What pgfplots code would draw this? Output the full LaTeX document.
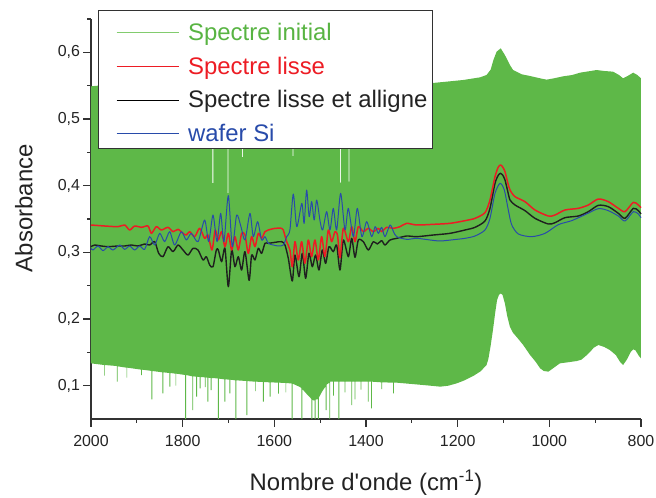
\documentclass[border=0pt]{standalone}
\usepackage{fontspec}
\setmainfont{Liberation Sans}
\usepackage{pgfplots}
\pgfplotsset{compat=1.18}
\definecolor{sgreen}{RGB}{94,184,72}
\definecolor{sgreenL}{RGB}{130,204,110}
\definecolor{sgreenT}{RGB}{88,180,66}
\definecolor{sred}{RGB}{237,28,36}
\definecolor{sblue}{RGB}{40,75,170}
\definecolor{axgray}{RGB}{50,50,50}
\definecolor{txt}{RGB}{35,35,35}
\begin{document}
\begin{tikzpicture}
\begin{axis}[
  scale only axis, width=550bp, height=400bp,
  xmin=800, xmax=2000, ymin=0.05, ymax=0.65,
  x dir=reverse, clip=false,
  axis lines=left, axis line style={-, axgray, line width=1.2pt},
  tick align=outside, tick style={axgray, line width=1.1pt},
  major tick length=7.5bp, minor tick length=3.5bp,
  xtick={800,1000,1200,1400,1600,1800,2000},
  minor xtick={900,1100,1300,1500,1700,1900},
  ytick={0.1,0.2,0.3,0.4,0.5,0.6},
  minor ytick={0.15,0.25,0.35,0.45,0.55,0.65},
  /pgf/number format/assume math mode=true,
  ticklabel style={font=\fontsize{16}{19}\selectfont, text=txt},
  xticklabel style={/pgf/number format/1000 sep={}, yshift=-5bp},
  yticklabel style={/pgf/number format/.cd, fixed, fixed zerofill, precision=1, use comma},
  xlabel={Nombre d\textquotesingle onde (cm\textsuperscript{-1})},
  ylabel={Absorbance},
  label style={font=\fontsize{24}{28}\selectfont, text=txt},
  xlabel style={at={(axis description cs:0.5,-0.16)}, anchor=center},
  ylabel style={at={(axis description cs:-0.122,0.527)}, anchor=center},
  legend image code/.code={\path (0bp,0bp) (71bp,0bp); \draw[#1] (0bp,2bp) -- (62bp,2bp);},
  legend cell align=left,
  legend style={at={(axis description cs:0.04545,0.99)}, anchor=north west,
    draw=none, fill=none, inner xsep=0bp, inner ysep=0bp, row sep=11.9bp,
    font=\fontsize{24}{28}\selectfont,
    nodes={inner sep=0bp, text height=17bp, text depth=5bp}},
  every axis plot/.append style={line join=round},
]
% Spectre initial: band between upper and lower envelopes of the rapid oscillation
\addplot[fill=sgreen, draw=none, forget plot] coordinates {
(2000,0.549) (1985,0.550) (1900,0.552) (1800,0.553)
(1735,0.553) (1735,0.404) (1733,0.404) (1733,0.553)
(1702,0.553) (1702,0.389) (1700,0.389) (1700,0.553)
(1670,0.553) (1670,0.443) (1668,0.443) (1668,0.553)
(1560.3,0.553) (1560.3,0.4445) (1558.3,0.4445) (1558.3,0.553)
(1456.2,0.553) (1456.2,0.4045) (1454.2,0.4045) (1454.2,0.553)
(1438.1,0.553) (1438.1,0.406) (1436.1,0.406) (1436.1,0.553)
(1400,0.553) (1300,0.554) (1254,0.554) (1188,0.5585) (1151,0.5625) (1137,0.566)
(1128,0.574) (1122,0.5885) (1115,0.601) (1106,0.606) (1097,0.596) (1086,0.581)
(1079,0.5735) (1060,0.567) (1042,0.5645) (1020,0.561) (1006,0.559) (990,0.561)
(970,0.564) (950,0.566) (933,0.5695) (910,0.572) (897,0.5735) (880,0.572)
(861,0.571) (848,0.566) (839,0.561) (828,0.565) (817,0.5695) (808,0.566) (800,0.561)
(800,0.141) (805,0.145) (812,0.153) (817,0.1545) (823,0.150) (830,0.140) (839,0.131)
(846,0.136) (855,0.146) (868,0.1535) (880,0.158) (893,0.161) (903,0.157) (912,0.150)
(918,0.146) (930,0.139) (940,0.137) (960,0.135) (977,0.1335) (990,0.127) (1002,0.121)
(1012,0.122) (1020,0.126) (1030,0.136) (1042,0.146) (1057,0.161) (1070,0.172)
(1080,0.180) (1086,0.1885) (1092,0.205) (1097,0.2235) (1102,0.236) (1106,0.2385)
(1110,0.236) (1114,0.2285) (1118,0.210) (1123,0.1835) (1128,0.160) (1133,0.140)
(1137,0.131) (1150,0.1215) (1166,0.1145) (1185,0.108) (1202,0.1035) (1220,0.100)
(1238,0.0985) (1260,0.100) (1300,0.1025) (1333,0.1045)
(1339,0.1045) (1339,0.0885) (1341,0.0885) (1341,0.1045)
(1365,0.105) (1365,0.095) (1366.5,0.095) (1366.5,0.105)
(1387,0.106) (1387,0.066) (1389,0.066) (1389,0.106)
(1394,0.106) (1394,0.076) (1396,0.076) (1396,0.106)
(1410,0.106) (1410,0.094) (1411.5,0.094) (1411.5,0.106)
(1423,0.106) (1423,0.0795) (1425,0.0795) (1425,0.106)
(1430,0.106) (1430,0.071) (1432,0.071) (1432,0.106)
(1445,0.106) (1445,0.090) (1446.5,0.090) (1446.5,0.106)
(1458,0.106) (1458,0.050) (1460,0.050) (1460,0.106)
(1470,0.106) (1470,0.085) (1471.5,0.085) (1471.5,0.106)
(1478,0.106) (1478,0.050) (1480,0.050) (1480,0.1045)
(1486,0.1015) (1486,0.0635) (1488,0.0635) (1488,0.099)
(1495,0.092)
(1503,0.082) (1503,0.050) (1505,0.050) (1505,0.080)
(1510,0.079) (1510,0.050) (1512,0.050) (1512,0.078)
(1515,0.078)
(1517,0.079) (1517,0.050) (1519,0.050) (1519,0.080)
(1530,0.088)
(1539,0.095) (1539,0.050) (1541,0.050) (1541,0.096)
(1544,0.098)
(1560,0.103) (1560,0.050) (1562,0.050) (1562,0.1035)
(1566,0.1035)
(1574,0.104) (1574,0.090) (1575.5,0.090) (1575.5,0.104)
(1590,0.1045) (1590,0.088) (1591.5,0.088) (1591.5,0.1045)
(1608,0.105) (1608,0.0835) (1610,0.0835) (1610,0.105)
(1623,0.1055) (1623,0.076) (1625,0.076) (1625,0.1055)
(1640,0.106) (1640,0.092) (1641.5,0.092) (1641.5,0.106)
(1653,0.1065)
(1659,0.107) (1659,0.056) (1661,0.056) (1661,0.107)
(1683,0.108) (1683,0.050) (1685,0.050) (1685,0.108)
(1696,0.109) (1696,0.0885) (1698,0.0885) (1698,0.109)
(1707,0.1095) (1707,0.076) (1709,0.076) (1709,0.1095)
(1721,0.1105) (1721,0.050) (1723,0.050) (1723,0.111)
(1726,0.111)
(1737,0.1115) (1737,0.0935) (1739,0.0935) (1739,0.1115)
(1744,0.112) (1744,0.076) (1746,0.076) (1746,0.112)
(1750,0.1125) (1750,0.098) (1751.5,0.098) (1751.5,0.1125)
(1761,0.113) (1761,0.096) (1763,0.096) (1763,0.113)
(1768.5,0.1135) (1768.5,0.0835) (1770.5,0.0835) (1770.5,0.1135)
(1777,0.114) (1777,0.0635) (1779,0.0635) (1779,0.114)
(1792.5,0.116) (1792.5,0.050) (1794.5,0.050) (1794.5,0.116)
(1799,0.1165)
(1814,0.118) (1814,0.100) (1815.5,0.100) (1815.5,0.118)
(1827,0.119) (1827,0.0985) (1829,0.0985) (1829,0.119)
(1842,0.120) (1842,0.0885) (1844,0.0885) (1844,0.120)
(1866,0.122) (1866,0.0795) (1868,0.0795) (1868,0.122)
(1871,0.1225)
(1889,0.124) (1889,0.116) (1890.5,0.116) (1890.5,0.124)
(1921,0.127) (1921,0.112) (1922.5,0.112) (1922.5,0.127)
(1942,0.129) (1942,0.106) (1943.5,0.106) (1943.5,0.129)
(1944,0.1295)
(1970,0.131) (1970,0.115) (1971.5,0.115) (1971.5,0.131)
(2000,0.1335)
} -- cycle;
% Spectre lisse et alligne
\addplot[black!88, line width=1.4pt, smooth, tension=0.45, forget plot] coordinates {
(2000,0.3085) (1992,0.311) (1977.4,0.3095) (1962.9,0.3085) (1941,0.3095) (1926.5,0.3095)
(1912,0.311) (1897.4,0.3095) (1882.9,0.3125) (1872,0.311) (1861,0.316) (1852.3,0.2985)
(1842.9,0.2935) (1832,0.3085) (1821,0.301) (1810.1,0.311) (1799.2,0.3035) (1788.3,0.296)
(1777.4,0.306) (1766.5,0.3035) (1755.6,0.2885) (1748.3,0.2935) (1741,0.281) (1733.8,0.2785)
(1726.5,0.3035) (1722.2,0.3035) (1715,0.286) (1707.7,0.306) (1700.4,0.2485) (1693.1,0.3035)
(1685.9,0.2785) (1678.6,0.2935) (1671.3,0.2735) (1664,0.301) (1655,0.258) (1649.5,0.296)
(1642.2,0.2885) (1635,0.306) (1627.7,0.2985) (1620.4,0.3135) (1613.1,0.3135) (1598.6,0.315)
(1584,0.316) (1576.8,0.311) (1569.5,0.291) (1560.8,0.257) (1555,0.296) (1546.2,0.2635)
(1538.9,0.2985) (1531.7,0.261) (1524.4,0.2985) (1517.1,0.2785) (1509.9,0.296) (1502.6,0.2735)
(1495.3,0.3035) (1488,0.2835) (1480.8,0.3085) (1471.3,0.301) (1464,0.311) (1456.7,0.2735)
(1449.4,0.3185) (1438.5,0.2935) (1431.2,0.321) (1424,0.2925) (1416.7,0.3185) (1405.8,0.316)
(1394.9,0.3035) (1384,0.316) (1375.2,0.3125) (1365.8,0.3175) (1358.5,0.311) (1347.6,0.3185)
(1333.1,0.321) (1311.2,0.3245) (1289.4,0.3235) (1253.1,0.326) (1216.7,0.3285) (1184,0.3335)
(1162.2,0.3375) (1140.4,0.347) (1129.5,0.366) (1118.5,0.4035) (1111,0.416) (1106.2,0.4185)
(1101.8,0.416) (1096.7,0.4085) (1090.9,0.392) (1085.8,0.3785) (1074.9,0.371) (1053.1,0.3625)
(1031.3,0.351) (1002.2,0.3425) (987.6,0.3445) (965.8,0.352) (936.7,0.3545) (914.9,0.361)
(893.1,0.3705) (871.3,0.3685) (849.4,0.3585) (834.9,0.351) (816.7,0.366) (805.8,0.3625)
(800,0.3575)
};
% Spectre lisse
\addplot[sred, line width=1.5pt, smooth, tension=0.45, forget plot] coordinates {
(2000,0.341) (1970,0.3395) (1941,0.3385) (1926.5,0.341) (1915.6,0.3335) (1904.7,0.3395)
(1890.1,0.3375) (1875.6,0.3395) (1868.3,0.3285) (1857.4,0.3385) (1846.5,0.3335) (1832,0.3375)
(1821,0.331) (1810.1,0.3345) (1799.2,0.3285) (1792,0.326) (1784.7,0.331) (1773.8,0.3235)
(1762.9,0.336) (1752,0.321) (1744.7,0.326) (1736,0.3035) (1729,0.3335) (1722.2,0.3185)
(1715,0.331) (1707.7,0.3085) (1700.4,0.3285) (1693.1,0.3035) (1685.9,0.3235) (1678.6,0.3035)
(1671.3,0.3285) (1664,0.326) (1656.8,0.2985) (1649.5,0.3235) (1642.2,0.3085) (1635,0.3285)
(1627.7,0.321) (1620.4,0.331) (1613.1,0.3335) (1598.6,0.336) (1584,0.336) (1580.4,0.3335)
(1573.1,0.316) (1565.9,0.3035) (1560.8,0.2785) (1555,0.316) (1547.7,0.2885) (1540.4,0.316)
(1533.1,0.2835) (1525.9,0.3185) (1518.6,0.2935) (1511.3,0.3185) (1504,0.2885) (1496.8,0.3235)
(1489.5,0.2935) (1482.2,0.3335) (1474.9,0.316) (1467.7,0.331) (1462,0.325) (1456.7,0.292)
(1449.4,0.336) (1438.5,0.316) (1431.2,0.3385) (1424,0.316) (1416.7,0.3385) (1405.8,0.331)
(1394.9,0.336) (1384,0.331) (1373.1,0.336) (1365.8,0.331) (1354.9,0.3375) (1340.3,0.336)
(1325.8,0.3385) (1311.2,0.3435) (1289.4,0.341) (1253.1,0.342) (1216.7,0.3435) (1184,0.3475)
(1162.2,0.351) (1140.4,0.3595) (1129.5,0.3785) (1118.5,0.4135) (1111.3,0.428) (1106.2,0.431)
(1101.8,0.428) (1096.7,0.421) (1090.9,0.405) (1085.8,0.3935) (1074.9,0.3835) (1053.1,0.376)
(1031.3,0.3635) (1002.2,0.3545) (987.6,0.356) (965.8,0.3635) (936.7,0.366) (914.9,0.371)
(893.1,0.380) (871.3,0.376) (849.4,0.366) (834.9,0.361) (816.7,0.375) (805.8,0.371)
(800,0.367)
};
% wafer Si
\addplot[sblue, line width=1pt, smooth, tension=0.45, forget plot] coordinates {
(2000,0.306) (1995.6,0.3035) (1984.7,0.3095) (1973.8,0.3025) (1962.9,0.3085) (1952,0.3035)
(1937.4,0.311) (1926.5,0.3045) (1915.6,0.3095) (1904.7,0.3035) (1893.8,0.3095) (1882.9,0.3045)
(1872,0.3235) (1861,0.311) (1850.1,0.3285) (1839.2,0.316) (1828.3,0.331) (1817.4,0.311)
(1802.9,0.331) (1792,0.3185) (1781,0.3285) (1766.5,0.316) (1752,0.3485) (1743.2,0.316)
(1733.8,0.356) (1725,0.316) (1717.1,0.3585) (1709.9,0.316) (1700.4,0.385) (1691.7,0.3085)
(1682.2,0.356) (1672.8,0.3385) (1664,0.3185) (1653.1,0.3585) (1645.9,0.3235) (1636.4,0.346)
(1627.7,0.3185) (1620.4,0.3235) (1613.1,0.3135) (1602.2,0.311) (1591.3,0.3095) (1580.4,0.311)
(1573,0.3235) (1566,0.3335) (1558.6,0.3875) (1551,0.3385) (1540,0.3735) (1535,0.3435)
(1529.5,0.3935) (1524,0.3535) (1518.5,0.376) (1513,0.3485) (1507.6,0.3785) (1500,0.346)
(1494.5,0.3335) (1485.8,0.361) (1478.6,0.3335) (1471.3,0.366) (1464,0.3335) (1455.3,0.3885)
(1445.8,0.3335) (1438.5,0.366) (1427.6,0.3235) (1418.9,0.366) (1409,0.3235) (1398.5,0.346)
(1387.6,0.3235) (1380,0.3385) (1373,0.3285) (1365.8,0.3375) (1358.5,0.3235) (1347.6,0.341)
(1340,0.331) (1333,0.3235) (1311,0.3195) (1289,0.321) (1260,0.3185) (1238,0.317)
(1202,0.3195) (1184,0.321) (1162.2,0.3245) (1140.4,0.3335) (1129.5,0.351) (1118.5,0.3885)
(1107.6,0.4035) (1098.2,0.3935) (1089.5,0.3635) (1082.2,0.3415) (1067.6,0.3275) (1038.5,0.3235)
(1009.4,0.3285) (980.4,0.3415) (951.3,0.3475) (922.2,0.3565) (893.1,0.3655) (871.3,0.3625)
(849.4,0.3545) (834.9,0.347) (816.7,0.361) (805.8,0.3575) (800,0.352)
};
% legend frame
\draw[axgray, line width=0.9pt, fill=white] (axis description cs:0.0127,1.0225) rectangle (axis description cs:0.62,0.6775);
\addlegendimage{sgreenL, line width=1pt}
\addlegendentry{\textcolor{sgreenT}{Spectre initial}}
\addlegendimage{sred, line width=1pt}
\addlegendentry{\textcolor{sred}{Spectre lisse}}
\addlegendimage{black, line width=1pt}
\addlegendentry{\textcolor{txt}{Spectre lisse et alligne}}
\addlegendimage{sblue, line width=1pt}
\addlegendentry{\textcolor{sblue}{wafer Si}}
\end{axis}
\pgfresetboundingbox
\useasboundingbox (current axis.south west) ++(-91bp,-79bp) rectangle ++(656bp,498bp);
\end{tikzpicture}
\end{document}
